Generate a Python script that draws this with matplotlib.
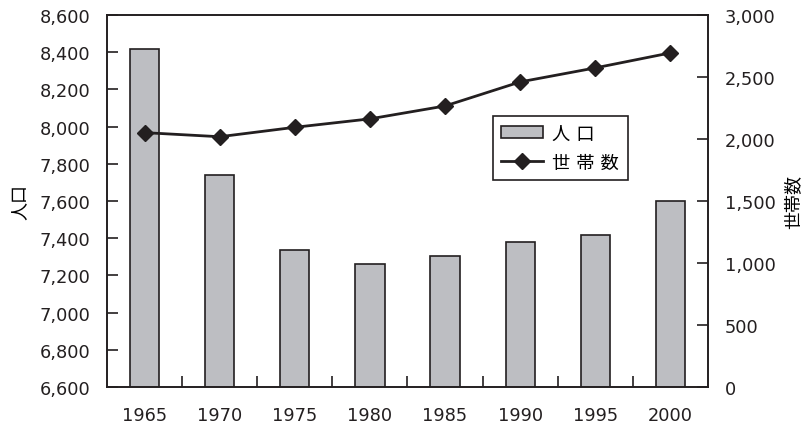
import numpy as np
import matplotlib.pyplot as plt
from matplotlib.ticker import FuncFormatter, FixedLocator

plt.rcParams["font.family"] = ["DejaVu Sans", "Noto Sans CJK JP"]

years = ["1965", "1970", "1975", "1980", "1985", "1990", "1995", "2000"]
population = [8415, 7740, 7337, 7259, 7306, 7381, 7419, 7600]
households = [2051, 2018, 2094, 2162, 2266, 2460, 2573, 2694]

ink = "#231f20"
bar_gray = "#bdbec2"

fig = plt.figure(figsize=(8.08, 4.31), dpi=100)
ax = fig.add_axes([0.1324, 0.0998, 0.7438, 0.8632])
ax2 = ax.twinx()

x = np.arange(len(years))
bars = ax.bar(x, population, width=0.39, color=bar_gray, edgecolor=ink,
              linewidth=1.2, label="人口", zorder=2)
ax.set_ylim(6600, 8600)
ax.set_xlim(-0.5, len(years) - 0.5)
ax.set_yticks(np.arange(6600, 8601, 200))
ax.yaxis.set_major_formatter(FuncFormatter(lambda v, p: f"{int(v):,}"))
ax.set_xticks(x)
ax.set_xticklabels(years)
ax.xaxis.set_minor_locator(FixedLocator(x[:-1] + 0.5))
ax.set_ylabel("人口", fontsize=13, labelpad=8)

line, = ax2.plot(x, households, color=ink, linewidth=2, marker="D",
                 markersize=8, label="世帯数", zorder=3)
ax2.set_ylim(0, 3000)
ax2.set_yticks(np.arange(0, 3001, 500))
ax2.yaxis.set_major_formatter(FuncFormatter(lambda v, p: f"{int(v):,}"))
ax2.set_ylabel("世帯数", fontsize=13, rotation=90, labelpad=7)

for a in (ax, ax2):
    for s in a.spines.values():
        s.set_color(ink)
        s.set_linewidth(1.2)
    a.tick_params(axis="y", direction="in", length=8, width=1.2, color=ink,
                  labelsize=12.8, pad=12, labelcolor=ink)

ax.tick_params(axis="x", which="major", length=0, labelsize=12.8, pad=14,
               labelcolor=ink)
ax.tick_params(axis="x", which="minor", direction="in", length=8, width=1.2,
               color=ink)

leg = ax.legend([bars, line], ["人 口", "世 帯 数"], loc="upper left",
                bbox_to_anchor=(0.642, 0.728), fancybox=False, framealpha=1,
                edgecolor=ink, fontsize=13.2, handlelength=2.3,
                borderpad=0.45, labelspacing=0.6, handletextpad=0.5,
                borderaxespad=0)
leg.get_frame().set_linewidth(1.2)
leg.set_zorder(5)

fig.savefig("out.png", dpi=100)
